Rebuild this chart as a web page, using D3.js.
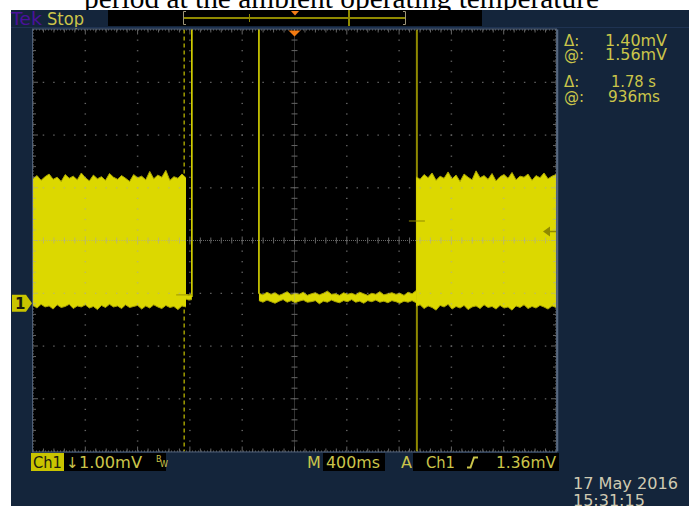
<!DOCTYPE html>
<html><head><meta charset="utf-8">
<script src="https://cdn.jsdelivr.net/npm/d3@7"></script>
<style>html,body{margin:0;padding:0;background:#fff;}svg{display:block}</style>
</head><body><svg id="c" width="689" height="506"></svg>
<script>
// ---------------- data ----------------
const titleText = "period at the ambient operating temperature";
const timeDomain = [-2.0, 2.0];    // s : 10 div x 400 ms, trigger at 0
const voltDomain = [-2.81, 5.19];  // mV: 8 div x 1.00 mV, ground marker at 0

const burst1Span = [-2.0, -0.83];
const burst1Top = [2.36,2.42,2.33,2.40,2.45,2.35,2.39,2.31,2.44,2.37,2.41,2.34,2.47,2.38,2.32,2.43,2.36,2.40,2.33,2.46,2.39,2.35,2.42,2.37,2.31,2.44,2.38,2.41,2.34,2.50,2.36,2.43,2.39,2.52,2.33,2.40,2.37,2.45,2.38];
const burst1Bottom = [-0.04,-0.09,-0.02,-0.07,-0.05,-0.11,-0.03,-0.08,-0.06,-0.02,-0.10,-0.05,-0.07,-0.03,-0.09,-0.06,-0.12,-0.04,-0.08,-0.02,-0.07,-0.05,-0.10,-0.03,-0.08,-0.06,-0.04,-0.11,-0.05,-0.09,-0.03,-0.07,-0.10,-0.04,-0.08,-0.06,-0.12,-0.05,-0.07];

const lowASpan = [-0.83, -0.785];
const lowATop = [0.17, 0.15, 0.18];
const lowABottom = [0.08, 0.06, 0.07];

const lowBSpan = [-0.272, 0.93];
const lowBTop = [0.19,0.16,0.21,0.17,0.20,0.15,0.18,0.22,0.16,0.19,0.17,0.21,0.15,0.18,0.20,0.16,0.19,0.23,0.17,0.18,0.15,0.20,0.17,0.19,0.16,0.21,0.18,0.15,0.19,0.17,0.22,0.16,0.18,0.20,0.17,0.19,0.15,0.21,0.18,0.24];
const lowBBottom = [0.05,0.02,0.06,0.03,0.00,0.04,0.07,0.02,0.05,0.01,0.04,0.06,0.02,0.03,0.05,-0.01,0.04,0.02,0.06,0.03,0.01,0.05,0.03,0.07,0.02,0.04,0.00,0.05,0.03,0.06,0.02,0.04,0.01,0.05,0.03,0.00,0.04,0.02,0.05,0.01];

const burst2Span = [0.93, 2.0];
const burst2Top = [2.40,2.35,2.44,2.38,2.47,2.33,2.41,2.37,2.49,2.36,2.43,2.31,2.45,2.39,2.34,2.51,2.38,2.42,2.35,2.46,2.32,2.40,2.44,2.37,2.48,2.34,2.41,2.39,2.45,2.33,2.42,2.38,2.47,2.36,2.41,2.44];
const burst2Bottom = [-0.06,-0.03,-0.10,-0.05,-0.08,-0.13,-0.04,-0.07,-0.02,-0.11,-0.06,-0.09,-0.04,-0.12,-0.07,-0.05,-0.10,-0.03,-0.08,-0.06,-0.11,-0.04,-0.09,-0.07,-0.13,-0.05,-0.08,-0.03,-0.10,-0.06,-0.09,-0.04,-0.07,-0.11,-0.05,-0.08];

// over-range excursions: [time s, from mV, to mV]
const overRangeEdges = [[-0.785, 0.12, 6.5], [-0.272, 6.5, 0.18]];

const cursorTimes = [-0.844, 0.936];   // cursor 1 (dashed), cursor 2 (solid)
const cursorLevels = [0.16, 1.56];     // mV at cursor 1, cursor 2
const triggerLevel = 1.36;             // mV
const triggerTime = 0;

const statusLabels = ["Tek", "Stop"];
const readoutLabels = ["Δ:", "@:", "Δ:", "@:"];
const readoutValues = ["1.40mV", "1.56mV", "1.78 s", "936ms"];
const channelLabel = "Ch1";
const scaleLabel = "1.00mV";
const timebaseLabel = "400ms";
const triggerLabel = "1.36mV";
const dateLines = ["17 May 2016", "15:31:15"];

// ---------------- layout ----------------
const svg = d3.select("#c");
const L = 33, R = 556, T = 29.5, B = 451.5;
const xs = d3.scaleLinear().domain(timeDomain).range([L, R]);
const ys = d3.scaleLinear().domain(voltDomain).range([B, T]);
const dx = (R - L) / 10, dy = (B - T) / 8;
const KHAKI = "#cbc54a", YEL = "#dcd800", OLIVE = "#8f8900";
const FONT = "'DejaVu Sans', sans-serif";

svg.append("rect").attr("width", 689).attr("height", 506).attr("fill", "#fff");
svg.append("text").attr("x", 341.5).attr("y", 7.5).attr("text-anchor", "middle")
  .attr("font-family", "'Liberation Serif', 'Times New Roman', serif").attr("font-size", 29)
  .attr("textLength", 515).attr("lengthAdjust", "spacingAndGlyphs").attr("fill", "#000").text(titleText);
svg.append("rect").attr("x", 11).attr("y", 10).attr("width", 678).attr("height", 496).attr("fill", "#14253b");

// header
svg.append("text").attr("x", 11).attr("y", 25).attr("font-family", FONT).attr("font-size", 18)
  .attr("textLength", 31).attr("lengthAdjust", "spacingAndGlyphs").attr("fill", "#4a119a").text(statusLabels[0]);
svg.append("text").attr("x", 47).attr("y", 25).attr("font-family", FONT).attr("font-size", 17)
  .attr("textLength", 37).attr("lengthAdjust", "spacingAndGlyphs").attr("fill", KHAKI).text(statusLabels[1]);
svg.append("rect").attr("x", 108).attr("y", 10).attr("width", 374).attr("height", 16).attr("fill", "#000");
svg.append("line").attr("x1", 183).attr("x2", 406).attr("y1", 18).attr("y2", 18).attr("stroke", OLIVE).attr("stroke-width", 2);
svg.append("path").attr("d", "M186,11.5H183.5V24.5H186M403,11.5H405.5V24.5H403").attr("fill", "none").attr("stroke", "#9c9478").attr("stroke-width", 1);
svg.append("line").attr("x1", 349).attr("x2", 349).attr("y1", 10).attr("y2", 26).attr("stroke", OLIVE).attr("stroke-width", 2);
svg.append("line").attr("x1", 249.5).attr("x2", 249.5).attr("y1", 14).attr("y2", 22).attr("stroke", OLIVE).attr("stroke-width", 1);
svg.append("path").attr("d", "M291,11L299,11L295,15.5Z").attr("fill", "#f47d18");
svg.append("line").attr("x1", 11).attr("x2", 689).attr("y1", 27.5).attr("y2", 27.5).attr("stroke", "#1f3352").attr("stroke-width", 1);

// plot area
svg.append("rect").attr("x", L).attr("y", T).attr("width", R - L).attr("height", B - T).attr("fill", "#000");
svg.append("rect").attr("x", L - 0.5).attr("y", T - 0.5).attr("width", R - L + 1).attr("height", B - T + 1)
  .attr("fill", "none").attr("stroke", "#4f5f76").attr("stroke-width", 1);
svg.append("line").attr("x1", R + 1.5).attr("x2", R + 1.5).attr("y1", T).attr("y2", B).attr("stroke", "#56677f").attr("stroke-width", 1.5);

svg.append("defs").append("clipPath").attr("id", "plotclip").append("rect")
  .attr("x", L).attr("y", T).attr("width", R - L).attr("height", B - T);
const plot = svg.append("g").attr("clip-path", "url(#plotclip)");

// cursors (behind trace)
plot.append("line").attr("x1", xs(cursorTimes[0])).attr("x2", xs(cursorTimes[0])).attr("y1", T).attr("y2", B)
  .attr("stroke", "#c9c400").attr("stroke-width", 1.2).attr("stroke-dasharray", "4,3");
plot.append("line").attr("x1", xs(cursorTimes[1])).attr("x2", xs(cursorTimes[1])).attr("y1", T).attr("y2", B)
  .attr("stroke", OLIVE).attr("stroke-width", 2);

// trace
function pts(span, top, bottom) {
  const n = top.length;
  return top.map((v, i) => ({ t: span[0] + (span[1] - span[0]) * i / (n - 1), hi: v, lo: bottom[i] }));
}
const area = d3.area().x(d => xs(d.t)).y0(d => ys(d.lo)).y1(d => ys(d.hi));
const lineHi = d3.line().x(d => xs(d.t)).y(d => ys(d.hi));
const lineLo = d3.line().x(d => xs(d.t)).y(d => ys(d.lo));
const segs = [pts(burst1Span, burst1Top, burst1Bottom), pts(lowASpan, lowATop, lowABottom),
              pts(lowBSpan, lowBTop, lowBBottom), pts(burst2Span, burst2Top, burst2Bottom)];
segs.forEach(s => {
  plot.append("path").attr("d", area(s)).attr("fill", YEL);
  plot.append("path").attr("d", lineHi(s)).attr("fill", "none").attr("stroke", "#a9a400").attr("stroke-width", 1);
  plot.append("path").attr("d", lineLo(s)).attr("fill", "none").attr("stroke", "#a9a400").attr("stroke-width", 1);
});
overRangeEdges.forEach(e => {
  plot.append("line").attr("x1", xs(e[0])).attr("x2", xs(e[0])).attr("y1", ys(e[1])).attr("y2", ys(e[2]))
    .attr("stroke", YEL).attr("stroke-width", 1.6);
});

// cursor crossing marks
plot.append("line").attr("x1", xs(cursorTimes[0]) - 8).attr("x2", xs(cursorTimes[0]) + 8)
  .attr("y1", ys(cursorLevels[0])).attr("y2", ys(cursorLevels[0])).attr("stroke", "#a8a300").attr("stroke-width", 1.2);
plot.append("line").attr("x1", xs(cursorTimes[1]) - 8).attr("x2", xs(cursorTimes[1]) + 8)
  .attr("y1", ys(cursorLevels[1])).attr("y2", ys(cursorLevels[1])).attr("stroke", OLIVE).attr("stroke-width", 1.2);

// graticule (drawn over the trace)
const grid = svg.append("g").attr("fill", "#a8a8a8").attr("stroke", "#a8a8a8").attr("opacity", 0.6);
for (let i = 1; i <= 9; i++) { if (i === 5) continue;
  for (let k = 1; k < 40; k++) grid.append("rect").attr("x", L + i * dx - 0.75).attr("y", T + k * dy / 5 - 0.5).attr("width", 1.5).attr("height", 1.2).attr("stroke", "none"); }
for (let j = 1; j <= 7; j++) { if (j === 4) continue;
  for (let k = 1; k < 50; k++) grid.append("rect").attr("x", L + k * dx / 5 - 0.75).attr("y", T + j * dy - 0.5).attr("width", 1.5).attr("height", 1.2).attr("stroke", "none"); }
const cx = L + 5 * dx, cy = T + 4 * dy;
grid.append("line").attr("x1", cx).attr("x2", cx).attr("y1", T).attr("y2", B).attr("stroke-width", 1).attr("stroke-dasharray", "1,1");
grid.append("line").attr("x1", L).attr("x2", R).attr("y1", cy).attr("y2", cy).attr("stroke-width", 1).attr("stroke-dasharray", "1,1");
for (let k = 1; k < 40; k++) { const y = T + k * dy / 5, w = k % 5 === 0 ? 4 : 3;
  grid.append("line").attr("x1", cx - w).attr("x2", cx + w).attr("y1", y).attr("y2", y).attr("stroke-width", 1);
  grid.append("line").attr("x1", L).attr("x2", L + (k % 5 === 0 ? 5 : 3)).attr("y1", y).attr("y2", y).attr("stroke-width", 1);
  grid.append("line").attr("x1", R).attr("x2", R - (k % 5 === 0 ? 5 : 3)).attr("y1", y).attr("y2", y).attr("stroke-width", 1); }
for (let k = 1; k < 50; k++) { const x = L + k * dx / 5, w = k % 5 === 0 ? 4 : 3;
  grid.append("line").attr("x1", x).attr("x2", x).attr("y1", cy - w).attr("y2", cy + w).attr("stroke-width", 1);
  grid.append("line").attr("x1", x).attr("x2", x).attr("y1", T).attr("y2", T + (k % 5 === 0 ? 5 : 3)).attr("stroke-width", 1);
  grid.append("line").attr("x1", x).attr("x2", x).attr("y1", B).attr("y2", B - (k % 5 === 0 ? 5 : 3)).attr("stroke-width", 1); }
[T + 0.5, B - 0.5].forEach(y => grid.append("line").attr("x1", L).attr("x2", R).attr("y1", y).attr("y2", y).attr("stroke-width", 1).attr("stroke-dasharray", "1,2"));
[L + 0.5, R - 0.5].forEach(x => grid.append("line").attr("x1", x).attr("x2", x).attr("y1", T).attr("y2", B).attr("stroke-width", 1).attr("stroke-dasharray", "1,2"));

// trigger markers
const tx = xs(triggerTime);
svg.append("path").attr("d", `M${tx - 6},${T + 1}L${tx + 6},${T + 1}L${tx},${T + 7}Z`).attr("fill", "#f47a10");
const ty = ys(triggerLevel);
svg.append("path").attr("d", `M${R - 13},${ty}L${R - 6},${ty - 5}L${R - 6},${ty + 5}Z`).attr("fill", OLIVE);
svg.append("line").attr("x1", R - 7).attr("x2", R).attr("y1", ty).attr("y2", ty).attr("stroke", OLIVE).attr("stroke-width", 1.5);

// ground marker
const gy = ys(0);
svg.append("path").attr("d", `M12,${gy - 8.5}H26L32,${gy}L26,${gy + 8.5}H12Z`).attr("fill", "#c9c400");
svg.append("text").attr("x", 15).attr("y", gy + 5.5).attr("font-family", FONT).attr("font-size", 15).attr("font-weight", "bold").attr("fill", "#1a1a10").text("1");

// readouts
const rowY = [46, 60, 87, 102], valX = [605, 605, 611, 608], valW = [62, 62, 45, 52];
readoutLabels.forEach((l, i) => {
  svg.append("text").attr("x", 564).attr("y", rowY[i]).attr("font-family", FONT).attr("font-size", 15).attr("fill", KHAKI).text(l);
  svg.append("text").attr("x", valX[i]).attr("y", rowY[i]).attr("font-family", FONT).attr("font-size", 15)
    .attr("textLength", valW[i]).attr("lengthAdjust", "spacingAndGlyphs").attr("fill", KHAKI).text(readoutValues[i]);
});

// bottom status bar
const by = 468;
svg.append("rect").attr("x", 31).attr("y", 453).attr("width", 33).attr("height", 18).attr("fill", "#c9c400");
svg.append("text").attr("x", 33).attr("y", by).attr("font-family", FONT).attr("font-size", 16)
  .attr("textLength", 29).attr("lengthAdjust", "spacingAndGlyphs").attr("fill", "#1c1c10").text(channelLabel);
svg.append("rect").attr("x", 64).attr("y", 453).attr("width", 102).attr("height", 18).attr("fill", "#000");
svg.append("text").attr("x", 66).attr("y", by).attr("font-family", FONT).attr("font-size", 15).attr("fill", KHAKI).text("↓");
svg.append("text").attr("x", 79).attr("y", by).attr("font-family", FONT).attr("font-size", 16)
  .attr("textLength", 63).attr("lengthAdjust", "spacingAndGlyphs").attr("fill", KHAKI).text(scaleLabel);
svg.append("text").attr("x", 156).attr("y", 462).attr("font-family", FONT).attr("font-size", 8).attr("fill", KHAKI).text("B");
svg.append("text").attr("x", 160).attr("y", 467).attr("font-family", FONT).attr("font-size", 8).attr("fill", KHAKI).text("W");

svg.append("text").attr("x", 307).attr("y", by).attr("font-family", FONT).attr("font-size", 16).attr("fill", KHAKI).text("M");
svg.append("rect").attr("x", 323).attr("y", 453).attr("width", 62).attr("height", 18).attr("fill", "#000");
svg.append("text").attr("x", 326).attr("y", by).attr("font-family", FONT).attr("font-size", 16)
  .attr("textLength", 54).attr("lengthAdjust", "spacingAndGlyphs").attr("fill", KHAKI).text(timebaseLabel);
svg.append("text").attr("x", 401).attr("y", by).attr("font-family", FONT).attr("font-size", 16).attr("fill", KHAKI).text("A");
svg.append("rect").attr("x", 413).attr("y", 453).attr("width", 146).attr("height", 18).attr("fill", "#000");
svg.append("text").attr("x", 426).attr("y", by).attr("font-family", FONT).attr("font-size", 16)
  .attr("textLength", 29).attr("lengthAdjust", "spacingAndGlyphs").attr("fill", KHAKI).text(channelLabel);
svg.append("path").attr("d", "M467,467.5H470.5L474,457.5H478").attr("fill", "none").attr("stroke", KHAKI).attr("stroke-width", 2);
svg.append("text").attr("x", 496).attr("y", by).attr("font-family", FONT).attr("font-size", 16)
  .attr("textLength", 60).attr("lengthAdjust", "spacingAndGlyphs").attr("fill", KHAKI).text(triggerLabel);

// date/time
svg.append("text").attr("x", 573).attr("y", 489).attr("font-family", FONT).attr("font-size", 16)
  .attr("textLength", 105).attr("lengthAdjust", "spacingAndGlyphs").attr("fill", "#cfcab2").text(dateLines[0]);
svg.append("text").attr("x", 573).attr("y", 506).attr("font-family", FONT).attr("font-size", 16)
  .attr("fill", "#cfcab2").text(dateLines[1]);
</script></body></html>
